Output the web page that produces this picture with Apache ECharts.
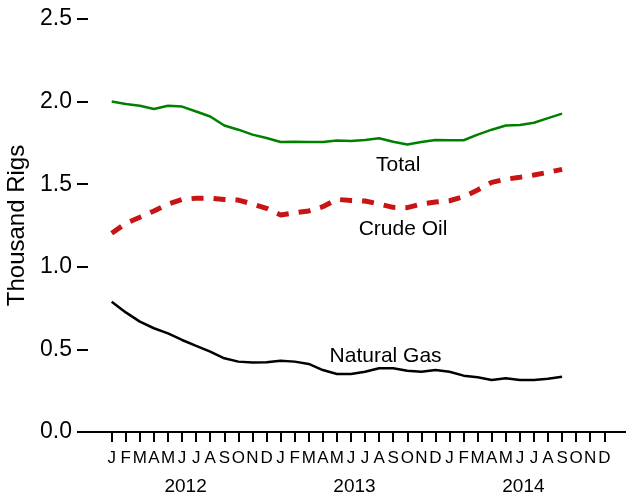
<!DOCTYPE html>
<html>
<head>
<meta charset="utf-8">
<script src="https://cdn.jsdelivr.net/npm/echarts@6/dist/echarts.min.js"></script>
<style>
html,body{margin:0;padding:0;background:#fff;}
#c{width:626px;height:497px;}
</style>
</head>
<body>
<div id="c"></div>
<script>
// Months Jan 2012 .. Dec 2014 (tick labels)
const monthLabels = ['J','F','M','A','M','J','J','A','S','O','N','D',
                     'J','F','M','A','M','J','J','A','S','O','N','D',
                     'J','F','M','A','M','J','J','A','S','O','N','D'];
const yearLabels = ['2012','2013','2014'];
const yTicks = [0, 0.5, 1.0, 1.5, 2.0, 2.5];

// Thousand rigs, Jan 2012 .. Sep 2014
const totalRigs = [2.00,1.985,1.975,1.955,1.975,1.97,1.94,1.91,1.855,1.83,1.80,1.78,
                   1.755,1.757,1.755,1.755,1.765,1.762,1.767,1.778,1.757,1.74,1.755,1.767,
                   1.766,1.766,1.80,1.83,1.855,1.858,1.872,1.90,1.927];
const crudeOil = [1.203,1.263,1.30,1.338,1.38,1.408,1.415,1.416,1.408,1.404,1.38,1.354,
                  1.314,1.327,1.338,1.364,1.408,1.402,1.398,1.38,1.36,1.358,1.38,1.392,
                  1.40,1.424,1.465,1.511,1.53,1.542,1.556,1.572,1.59];
const naturalGas = [0.789,0.724,0.668,0.628,0.597,0.557,0.521,0.486,0.446,0.426,0.42,0.422,
                    0.432,0.426,0.412,0.375,0.351,0.351,0.365,0.386,0.386,0.371,0.365,0.375,
                    0.365,0.341,0.331,0.315,0.325,0.315,0.315,0.323,0.335];

const FONT = 'Liberation Sans, Arial, Helvetica, sans-serif';
const toXY = arr => arr.map((v, i) => [i, v]);
const monthIdx = monthLabels.map((m, i) => i);
const yearPos = yearLabels.map((y, i) => i * 12 + 5.25);

function note(text, x, y) {
  return {
    symbol: 'circle', symbolSize: 1,
    itemStyle: { color: 'rgba(0,0,0,0)' },
    label: { show: true, position: 'inside', formatter: text, color: '#000',
             fontSize: 21, fontFamily: FONT },
    data: [{ coord: [x, y] }]
  };
}

const chart = echarts.init(document.getElementById('c'), null, { renderer: 'canvas' });
chart.setOption({
  animation: false,
  backgroundColor: '#fff',
  grid: { left: 88, right: 0, top: 19, bottom: 65, containLabel: false, outerBoundsMode: 'none' },
  xAxis: [{
    type: 'value', min: -1.684, max: 36.54,
    splitLine: { show: false },
    axisLine: { show: true, onZero: false, lineStyle: { color: '#000', width: 2 } },
    axisTick: { show: true, customValues: monthIdx, length: 10, lineStyle: { color: '#000', width: 2 } },
    axisLabel: { show: true, customValues: monthIdx, margin: 18, fontSize: 17, fontFamily: FONT, color: '#000',
                 formatter: v => monthLabels[Math.round(v)] },
  }, {
    type: 'value', min: -1.684, max: 36.54, position: 'bottom',
    splitLine: { show: false },
    axisLine: { show: false, onZero: false }, axisTick: { show: false },
    axisLabel: { show: true, customValues: yearPos, margin: 45, fontSize: 19, fontFamily: FONT, color: '#000',
                 formatter: v => yearLabels[Math.round((v - 5.25) / 12)] },
  }],
  yAxis: {
    type: 'value', min: 0, max: 2.5, interval: 0.5,
    name: 'Thousand Rigs', nameLocation: 'middle', nameGap: 55,
    nameTextStyle: { fontSize: 24, fontFamily: FONT, color: '#000' },
    splitLine: { show: false },
    axisLine: { show: false, onZero: false },
    axisTick: { show: true, length: 11, lineStyle: { color: '#000', width: 2 } },
    axisLabel: { margin: 16, fontSize: 23, fontFamily: FONT, color: '#000',
                 formatter: v => v.toFixed(1) }
  },
  series: [{
    name: 'Total', type: 'line', data: toXY(totalRigs), showSymbol: false, symbol: 'none',
    lineStyle: { color: '#008000', width: 2.5 },
    markPoint: note('Total', 20.35, 1.616)
  }, {
    name: 'Crude Oil', type: 'line', data: toXY(crudeOil), showSymbol: false, symbol: 'none',
    lineStyle: { color: '#c81414', width: 5, type: [12, 10], cap: 'butt' },
    markPoint: note('Crude Oil', 20.7, 1.229)
  }, {
    name: 'Natural Gas', type: 'line', data: toXY(naturalGas), showSymbol: false, symbol: 'none',
    lineStyle: { color: '#000', width: 2.5 },
    markPoint: note('Natural Gas', 19.46, 0.46)
  }]
});
</script>
</body>
</html>
